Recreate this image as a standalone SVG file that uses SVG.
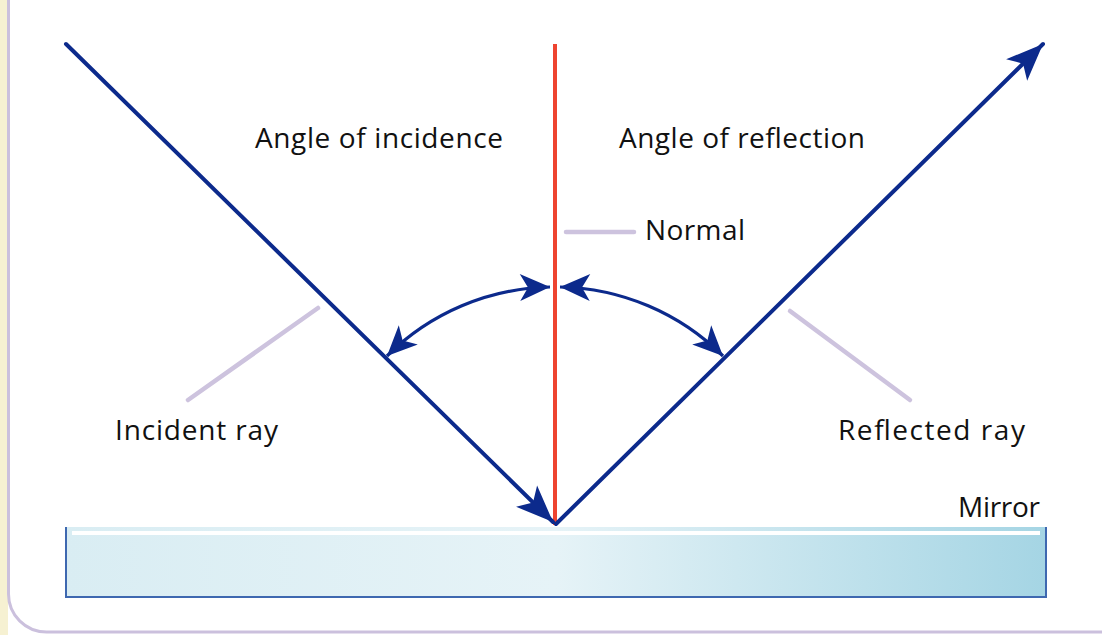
<svg xmlns="http://www.w3.org/2000/svg" width="1102" height="635" viewBox="0 0 1102 635">
<style>
.ray{stroke:#0c2a8c;stroke-width:4;fill:none;stroke-linecap:round}
.arc{stroke:#0c2a8c;stroke-width:3.2;fill:none}
.lead{stroke:#cdc3de;stroke-width:4.5;stroke-linecap:round;fill:none}
.lbl{font-family:"Open Sans","Noto Sans",sans-serif;font-size:28px;fill:#111}
</style>
<defs>
<marker id="ah" viewBox="-40 -17 42 34" markerWidth="42" markerHeight="34" refX="0" refY="0" orient="auto-start-reverse" markerUnits="userSpaceOnUse">
<path d="M0,0 L-37,-15 L-28,0 L-37,15 Z" fill="#0c2a8c"/>
</marker>
<marker id="ahs" viewBox="-32 -15 34 30" markerWidth="34" markerHeight="30" refX="0" refY="0" orient="auto-start-reverse" markerUnits="userSpaceOnUse">
<path d="M0,0 L-30,-13.5 L-22,0 L-30,13.5 Z" fill="#0c2a8c"/>
</marker>
<linearGradient id="mg" x1="0" y1="0" x2="1" y2="0">
<stop offset="0" stop-color="#d9edf3"/>
<stop offset="0.5" stop-color="#e6f3f7"/>
<stop offset="1" stop-color="#a5d5e4"/>
</linearGradient>
</defs>
<rect x="0" y="0" width="1102" height="635" fill="#ffffff"/>
<rect x="0" y="0" width="8" height="635" fill="#f6f1d2"/>
<g id="frame">
<rect x="8.5" y="-40" width="1140" height="672" rx="38" fill="#ffffff" stroke="#cbc0dd" stroke-width="3"/>
</g>
<g id="mirror">
<rect x="66" y="527" width="980" height="70" fill="url(#mg)"/>
<path d="M66,527 V597 H1046 V527" fill="none" stroke="#3e68b0" stroke-width="2"/>
<line x1="72" y1="533" x2="1040" y2="533" stroke="#ffffff" stroke-width="4"/>
<text class="lbl" x="958" y="517" textLength="82">Mirror</text>
</g>
<g id="normal">
<line x1="555" y1="44" x2="555" y2="525" stroke="#ee4430" stroke-width="4"/>
<text class="lbl" x="645" y="240" textLength="100">Normal</text>
</g>
<g id="labels">
<text class="lbl" x="255" y="148" textLength="248">Angle of incidence</text>
<text class="lbl" x="619" y="148" textLength="246">Angle of reflection</text>
<text class="lbl" x="115" y="440" textLength="163">Incident ray</text>
<text class="lbl" x="838" y="440" textLength="187">Reflected ray</text>
</g>
<g id="connectors">
<line class="ray" x1="66" y1="44" x2="553" y2="522" marker-end="url(#ah)"/>
<line class="ray" x1="556" y1="524" x2="1043" y2="44" marker-end="url(#ah)"/>
<path class="arc" d="M387,356 A238,238 0 0 1 550,287" marker-start="url(#ahs)" marker-end="url(#ahs)"/>
<path class="arc" d="M560,287 A238,238 0 0 1 723,356" marker-start="url(#ahs)" marker-end="url(#ahs)"/>
<line class="lead" x1="566" y1="232" x2="634" y2="232"/>
<line class="lead" x1="188" y1="400" x2="318" y2="308"/>
<line class="lead" x1="790" y1="311" x2="910" y2="400"/>
</g>
</svg>
